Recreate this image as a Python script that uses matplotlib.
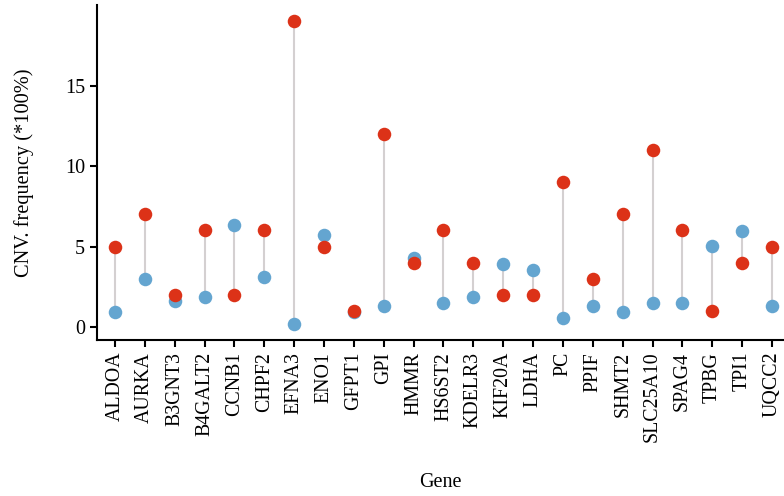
import matplotlib
matplotlib.use("Agg")
import matplotlib.pyplot as plt
import numpy as np

genes = ["ALDOA", "AURKA", "B3GNT3", "B4GALT2", "CCNB1", "CHPF2", "EFNA3", "ENO1",
         "GFPT1", "GPI", "HMMR", "HS6ST2", "KDELR3", "KIF20A", "LDHA", "PC", "PPIF",
         "SHMT2", "SLC25A10", "SPAG4", "TPBG", "TPI1", "UQCC2"]
gain = [5, 7, 2, 6, 2, 6, 19, 5, 1, 12, 4, 6, 4, 2, 2, 9, 3, 7, 11, 6, 1, 4, 5]
loss = [0.92, 3, 1.64, 1.87, 6.31, 3.14, 0.2, 5.73, 0.95, 1.34, 4.27, 1.5, 1.87, 3.9,
        3.53, 0.58, 1.34, 0.92, 1.5, 1.5, 5.01, 5.96, 1.34]

plt.rcParams['font.family'] = ['Liberation Serif', 'DejaVu Serif']

fig = plt.figure(figsize=(7.84, 4.96), dpi=100)
ax = fig.add_axes([0.1237, 0.3145, 0.8763, 0.6755])

x = np.arange(len(genes))
ax.vlines(x, np.minimum(gain, loss), np.maximum(gain, loss), color='#d4d0d1', lw=1.5, zorder=1)
ax.scatter(x, loss, s=95, color='#64a5d0', zorder=2, linewidths=0)
ax.scatter(x, gain, s=95, color='#dc3218', zorder=3, linewidths=0)

ax.set_xlim(-0.6, 22.4)
ax.set_ylim(-0.8, 20)
ax.set_yticks([0, 5, 10, 15])
ax.set_xticks(x)
ax.set_xticklabels(genes, rotation=90, fontsize=14.3)
ax.tick_params(axis='y', labelsize=14.5)
ax.tick_params(direction='out', length=5, width=1.5)

for s in ['top', 'right']:
    ax.spines[s].set_visible(False)
for s in ['left', 'bottom']:
    ax.spines[s].set_linewidth(1.5)

ax.set_ylabel('CNV. frequency (*100%)', fontsize=14.7, labelpad=22)
ax.set_xlabel('Gene', fontsize=14.5, labelpad=22)

fig.savefig('out.png', dpi=100)
